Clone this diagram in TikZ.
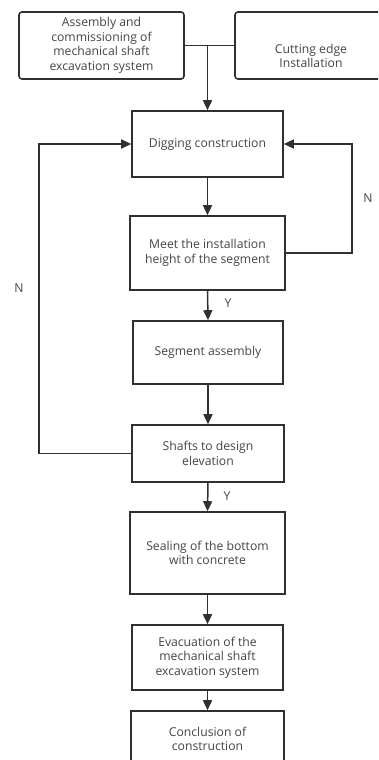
\documentclass[tikz,border=0pt]{standalone}
\usepackage{fontspec}
\setmainfont{Open Sans}
\usetikzlibrary{arrows.meta}
\definecolor{edge}{HTML}{303030}
\definecolor{ink}{HTML}{454545}
\tikzset{
  box/.style={draw=edge, line width=1.6pt, fill=white, align=center, text=ink,
    font=\fontsize{12.2pt}{14.6pt}\selectfont, inner sep=2pt},
  rbox/.style={box, rounded corners=3pt},
  txt/.style={align=center, text=ink, font=\fontsize{12.2pt}{14.6pt}\selectfont},
  lbl/.style={text=ink, font=\fontsize{12.2pt}{14pt}\selectfont},
  arr/.style={draw=edge, line width=1.5pt, -{Triangle[length=10pt,width=9pt]}},
  ln/.style={draw=edge, line width=1.5pt}
}
\begin{document}
\begin{tikzpicture}[x=1pt,y=-1pt]
\useasboundingbox (0,0) rectangle (378,760);
\clip (0,0) rectangle (378,760);
\fill[white] (0,0) rectangle (378,760);
\node[rbox, minimum width=165pt, minimum height=67pt] (A) at (101.5,45.5)
  {Assembly and\\commissioning of\\mechanical shaft\\excavation system};
\node[rbox, minimum width=152pt, minimum height=67pt] (B) at (311,45.5) {};
\node[txt] (Bt) at (311,56) {Cutting edge\\Installation};
\node[box, minimum width=151pt, minimum height=66pt] (C) at (207.5,144) {Digging construction};
\node[box, minimum width=155pt, minimum height=74pt] (D) at (207.5,253) {Meet the installation\\height of the segment};
\node[box, minimum width=150pt, minimum height=63pt] (E) at (208,352.5) {Segment assembly};
\node[box, minimum width=152pt, minimum height=57pt] (F) at (208,453.5) {Shafts to design\\elevation};
\node[box, minimum width=155pt, minimum height=82pt] (G) at (207.5,553) {Sealing of the bottom\\with concrete};
\node[box, minimum width=151pt, minimum height=65pt] (H) at (207.5,657.5) {Evacuation of the\\mechanical shaft\\excavation system};
\node[box, minimum width=153pt, minimum height=56pt] (I) at (207.5,739) {Conclusion of\\construction};
\coordinate (J) at (207.5,45.5);
\draw[ln] (A.east) -- (B.west);
\draw[arr] (J) -- (C.north);
\draw[arr] (C.south) -- (D.north);
\draw[arr] (D.south) -- (E.north);
\draw[arr] (E.south) -- (F.north);
\draw[arr] (F.south) -- (G.north);
\draw[arr] (G.south) -- (H.north);
\draw[arr] (H.south) -- (I.north);
\draw[arr] (D.east) -- (352,253) -- (352,144) -- (C.east);
\draw[arr] (F.west) -- (39,453.5) -- (39,144) -- (C.west);
\node[lbl] (n1) at (368,198) {N};
\node[lbl] (n2) at (19,288) {N};
\node[lbl] (y1) at (228,303) {Y};
\node[lbl] (y2) at (227,496) {Y};
\end{tikzpicture}
\end{document}
